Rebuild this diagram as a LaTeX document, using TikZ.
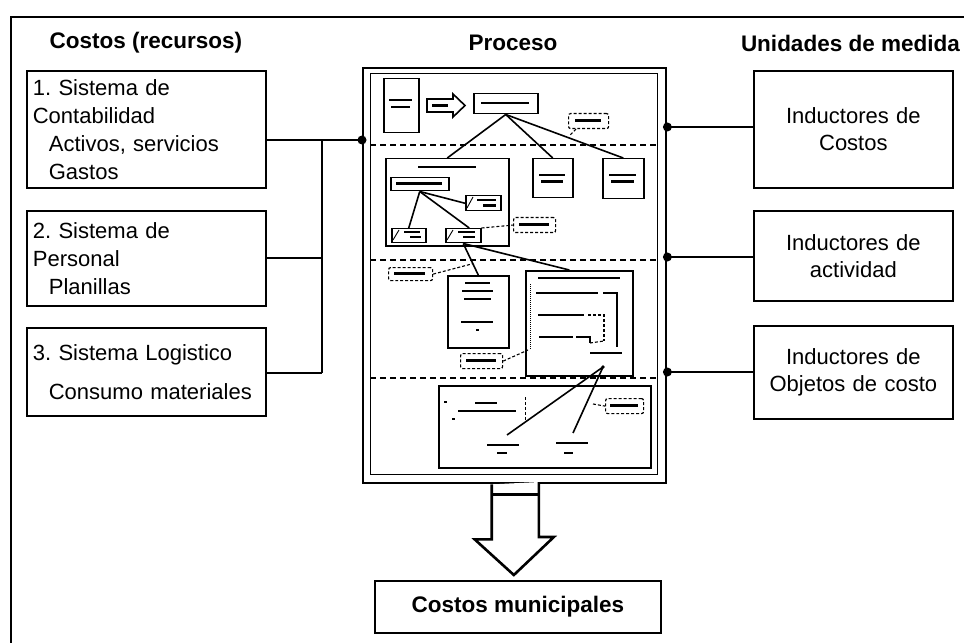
\documentclass[tikz,border=0pt]{standalone}
\usepackage{fontspec}
\setmainfont{Liberation Sans}
\usetikzlibrary{calc}
\newcommand\blurbar[3]{\fill ({#1},{#2-1.2}) rectangle ({#1+#3},{#2+1.2});}
\begin{document}
\frenchspacing
\begin{tikzpicture}[x=1bp,y=-1bp,line join=miter,
  head/.style={font=\bfseries\fontsize{22.5bp}{26bp}\selectfont, inner sep=0pt},
  lbox/.style={draw, line width=1.7bp, anchor=north west, inner xsep=6bp, inner ysep=0pt,
    align=left, text width=227bp, font=\fontsize{22bp}{28bp}\selectfont},
  rbox/.style={draw, line width=1.7bp, anchor=north west, inner xsep=6bp, inner ysep=0pt,
    align=center, text width=187bp, font=\fontsize{22bp}{27bp}\selectfont},
  conn/.style={line width=2.8bp},
  ib/.style={draw, line width=1.5bp, inner sep=0pt, anchor=north west},
  il/.style={line width=1.6bp},
  callout/.style={draw, densely dashed, line width=1.2bp, rounded corners=2bp, inner sep=0pt, anchor=north west},
  dl/.style={densely dashed, line width=1.1bp},
  sep/.style={line width=1.6bp, dash pattern=on 6bp off 4bp}]
\useasboundingbox (0,0) rectangle (964,643);
\fill[white] (0,0) rectangle (964,643);
% outer frame
\draw[line width=1.6bp] (11,643) -- (11,17) -- (964,17);
% headings
\node[head] (hcost) at (146,43) {Costos (recursos)};
\node[head] (hproc) at (513,43) {Proceso};
\node[head, anchor=east] (hunit) at (960,43) {Unidades de medida};
% left boxes
\node[lbox, minimum height=117bp] (b1) at (26,70) {1. Sistema de\\Contabilidad\\\hspace*{16bp}Activos, servicios\\\hspace*{16bp}Gastos};
\node[lbox, minimum height=95bp] (b2) at (26,210) {2. Sistema de\\Personal\\\hspace*{16bp}Planillas};
\node[lbox, minimum height=88bp] (b3) at (26,327) {3. Sistema Logistico\\[11bp]\hspace*{16bp}Consumo materiales};
% right boxes
\node[rbox, minimum height=117bp] (r1) at (753,70) {Inductores de\\Costos};
\node[rbox, minimum height=90bp] (r2) at (753,210) {Inductores de\\actividad};
\node[rbox, minimum height=93bp] (r3) at (753,325) {Inductores de\\Objetos de costo};
% process box
\node[draw, line width=2.4bp, inner sep=0pt, anchor=north west, minimum width=303bp, minimum height=415bp] (proc) at (362,67) {};
\node[draw, line width=1.4bp, inner sep=0pt, anchor=north west, minimum width=287bp, minimum height=401bp] (pin) at (370,73) {};
\draw[sep] (370,145) -- (657,145);
\draw[sep] (370,260) -- (657,260);
\draw[sep] (370,378) -- (657,378);
% left connectors
\coordinate (bus1) at (322,140);
\coordinate (bus2) at (322,258);
\coordinate (bus3) at (322,373);
\draw[conn] (b1.east |- bus1) -- (bus1) -- (proc.west |- bus1);
\draw[conn] (b2.east |- bus2) -- (bus2);
\draw[conn] (b3.east |- bus3) -- (bus3);
\draw[conn] (bus1) -- (bus3);
\fill (proc.west |- bus1) circle (4.5);
% right connectors
\coordinate (rc1) at (700,127);
\coordinate (rc2) at (700,257);
\coordinate (rc3) at (700,372);
\draw[conn] (r1.west |- rc1) -- (proc.east |- rc1);
\draw[conn] (r2.west |- rc2) -- (proc.east |- rc2);
\draw[conn] (r3.west |- rc3) -- (proc.east |- rc3);
\fill (proc.east |- rc1) circle (4.5);
\fill (proc.east |- rc2) circle (4.5);
\fill (proc.east |- rc3) circle (4.5);
% ---- section 1
\node[ib, minimum width=35bp, minimum height=54bp] (s1a) at (383,78) {};
\blurbar{389}{100}{23}\blurbar{391}{107}{19}
\draw[il] (427,99) -- (453,99) -- (453,94) -- (465,105.5) -- (453,117) -- (453,112) -- (427,112) -- cycle;
\blurbar{432}{105.5}{16}
\node[ib, minimum width=64bp, minimum height=20bp] (s1c) at (473,93) {};
\blurbar{481}{103}{48}
\node[callout, minimum width=40bp, minimum height=15bp] (p1) at (568,113) {};
\blurbar{575}{120.5}{26}
\draw[dl] ([xshift=8bp]p1.south west) -- ++(-7,7);
% ---- section 2
\node[ib, minimum width=123bp, minimum height=87bp] (ca1) at (385,158) {};
\blurbar{418}{167}{58}
\node[ib, minimum width=58bp, minimum height=13bp] (rr) at (390,177) {};
\blurbar{396}{183.5}{46}
\node[ib, minimum width=35bp, minimum height=15bp] (bc) at (465,195) {};
\blurbar{477}{200}{19}\blurbar{483}{205.5}{13}
\draw[line width=0.9bp] (467,208) -- (473,197);
\node[ib, minimum width=34bp, minimum height=14bp] (ba) at (391,228) {};
\blurbar{404}{232}{16}\blurbar{410}{237}{11}
\draw[line width=0.9bp] (393,240) -- (399,230);
\node[ib, minimum width=35bp, minimum height=14bp] (bb) at (445,228) {};
\blurbar{458}{232}{17}\blurbar{463}{237}{12}
\draw[line width=0.9bp] (447,240) -- (453,230);
\node[ib, minimum width=40bp, minimum height=39bp] (s2b) at (532,158) {};
\blurbar{539}{175}{26}\blurbar{541}{181.5}{22}
\node[ib, minimum width=41bp, minimum height=40bp] (s2c) at (602,158) {};
\blurbar{609}{175}{27}\blurbar{611}{181.5}{23}
\node[callout, minimum width=42bp, minimum height=15bp] (p2) at (513,217) {};
\blurbar{519}{224.5}{30}
\draw[il] (s1c.south) -- (ca1.north);
\draw[il] (s1c.south) -- (s2b.north);
\draw[il] (s1c.south) -- (s2c.north);
\draw[il] (rr.south) -- (ba.north);
\draw[il] (rr.south) -- (bc.west);
\draw[il] (rr.south) -- ([xshift=6bp]bb.north);
\draw[dl] (bb.north east) -- (p2.west);
% ---- section 3
\node[ib, minimum width=61bp, minimum height=72bp] (bd) at (447,275) {};
\blurbar{465}{283}{25}\blurbar{462}{291}{31}\blurbar{464}{299}{27}
\blurbar{461}{322}{32}\blurbar{476}{330}{3}
\node[ib, minimum width=107bp, minimum height=105bp, line width=1.7bp] (be) at (525,270) {};
\blurbar{538}{278}{82}
\draw[densely dotted, line width=1bp] (530,284) -- (530,348);
\blurbar{536}{293}{62}
\draw[il] (603,293) -- (617,293) -- (617,347);
\blurbar{538}{315}{46}
\draw[dl] (588,315) -- (604,315) -- (604,341);
\blurbar{539}{337}{34}
\draw[il] (576,337) -- (590,337) -- (590,343);
\draw[dl] (590,343) -- (604,341);
\blurbar{590}{353}{32}
\coordinate (res) at (603,367);
\fill (res) circle (1.8);
\node[callout, minimum width=44bp, minimum height=13bp] (p4) at (388,267) {};
\blurbar{394}{273.5}{31}
\coordinate (q4) at ($(bb.south)!0.64!(bd.north)$);
\draw[dl] (p4.east) -- (q4);
\node[callout, minimum width=42bp, minimum height=15bp] (p3) at (460,353) {};
\blurbar{466}{360.5}{30}
\coordinate (q3) at (528,350);
\draw[dl] (p3.east) -- (q3);
\draw[il] (bb.south) -- (bd.north);
\draw[il] (bb.south) -- ([xshift=-10bp]be.north);
% ---- section 4
\node[ib, minimum width=212bp, minimum height=82bp, line width=1.7bp] (bf) at (438,385) {};
\blurbar{475}{403}{22}\blurbar{458}{411}{58}
\blurbar{444}{402}{3}\blurbar{452}{419}{3}
\draw[densely dashed, line width=1bp] (525,397) -- (525,421);
\node[callout, minimum width=38bp, minimum height=15bp] (p5) at (605,398) {};
\blurbar{610}{405.5}{28}
\draw[dl] (593,404) -- (p5.west);
\coordinate (lab1) at (507,435);
\coordinate (lab2) at (573,433);
\draw[il] (res) -- (lab1);
\draw[il] (res) -- (lab2);
\blurbar{487}{445}{32}\blurbar{497}{453}{10}
\blurbar{556}{443}{32}\blurbar{564}{453}{9}
% ---- output arrow
\node[draw, line width=1.7bp, minimum width=286bp, minimum height=52bp, head, anchor=north west] (cm) at (374,580) {Costos municipales};
\draw[line width=2.6bp, fill=white] ([xshift=-23bp]proc.south) -- ++(0,55) -- ++(-17,0) -- ($(cm.north)+(-4,-5)$) -- ++(40,-38) -- ++(-15,0) -- ++(0,-55);
\draw[line width=2.6bp] ([xshift=-23bp,yshift=-10bp]proc.south) -- ++(48,0);
\end{tikzpicture}
\end{document}
